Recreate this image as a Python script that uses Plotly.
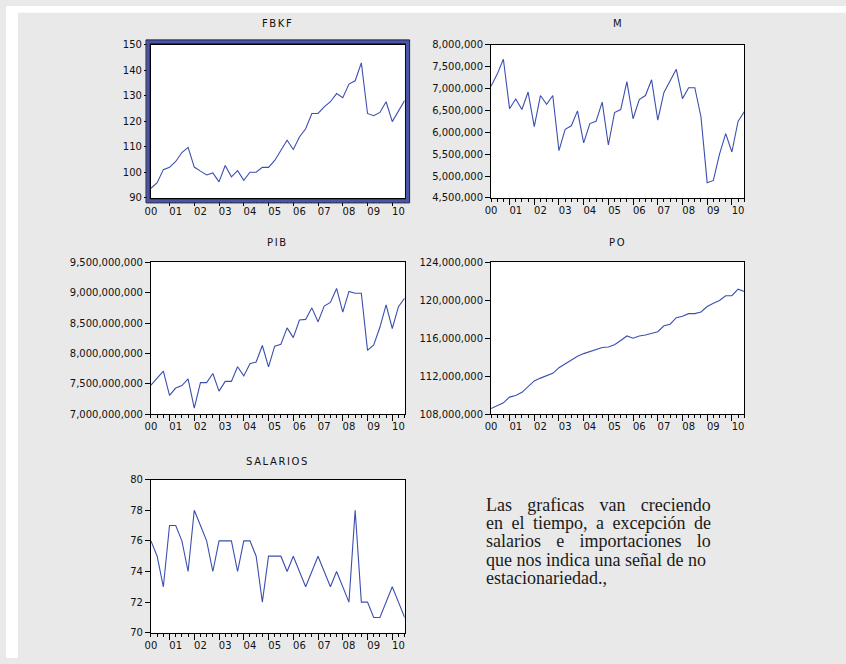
import plotly.graph_objects as go

W, H = 846, 664

# Quarterly observations, 2000Q1 .. 2010Q2
year_labels = ["00", "01", "02", "03", "04", "05", "06", "07", "08", "09", "10"]
obs = list(range(42))

fbkf = [93.8, 96.0, 101.1, 102.0, 104.3, 107.8, 109.8, 102.1, 100.5, 99.0,
        99.8, 96.3, 102.7, 98.3, 100.7, 96.9, 100.1, 100.1, 102.0, 102.0,
        104.7, 108.8, 112.6, 109.0, 113.9, 117.1, 123.1, 123.1, 125.7, 127.7,
        130.9, 129.3, 134.6, 135.9, 142.9, 123.1, 122.2, 123.5, 127.7, 119.9,
        123.9, 128.2]

m_imp = [7050000, 7330000, 7670000, 6540000, 6760000, 6520000, 6920000, 6130000,
         6840000, 6640000, 6840000, 5580000, 6070000, 6150000, 6490000, 5760000,
         6200000, 6250000, 6690000, 5710000, 6450000, 6520000, 7160000, 6310000,
         6750000, 6840000, 7200000, 6280000, 6910000, 7160000, 7440000, 6770000,
         7020000, 7020000, 6350000, 4850000, 4900000, 5500000, 5970000, 5550000,
         6250000, 6470000]

pib_bn = [7.48, 7.59, 7.71, 7.31, 7.43, 7.47, 7.58, 7.10, 7.52, 7.52,
          7.67, 7.38, 7.54, 7.54, 7.78, 7.63, 7.83, 7.86, 8.13, 7.78,
          8.12, 8.15, 8.42, 8.26, 8.55, 8.56, 8.75, 8.52, 8.78, 8.84,
          9.07, 8.68, 9.02, 8.99, 8.99, 8.05, 8.14, 8.43, 8.80, 8.41,
          8.77, 8.91]

po_mn = [108.60, 108.86, 109.20, 109.80, 109.97, 110.30, 110.93, 111.50, 111.80, 112.03,
         112.30, 112.90, 113.30, 113.76, 114.10, 114.38, 114.62, 114.80, 115.03, 115.07,
         115.31, 115.76, 116.24, 116.00, 116.24, 116.34, 116.52, 116.69, 117.31, 117.48,
         118.17, 118.31, 118.59, 118.59, 118.76, 119.34, 119.69, 119.97, 120.48, 120.48,
         121.17, 120.93]

salarios = [76, 75, 73, 77, 77, 76, 74, 78, 77, 76,
            74, 76, 76, 76, 74, 76, 76, 75, 72, 75,
            75, 75, 74, 75, 74, 73, 74, 75, 74, 73,
            74, 73, 72, 78, 72, 72, 71, 71, 72, 73,
            72, 71]

pib = [v * 1e9 for v in pib_bn]
po = [v * 1e6 for v in po_mn]

note_lines = [
    "Las graficas van creciendo",
    "en el tiempo, a excepción de",
    "salarios e importaciones lo",
    "que nos indica una señal de no",
    "estacionariedad.,",
]
# extra space between words so the paragraph reads justified
note_word_spacing = [10.8, 4.0, 10.8, 0.0, 0.0]


def fx(px):
    return px / W


def fy(px):
    return 1 - px / H


COL_X = [(146, 401.5), (488.5, 743.5)]
ROW_Y = [(39.5, 195.5), (261, 415.7), (482.3, 638.3)]

panels = [
    dict(name="FBKF", y=fbkf, col=0, row=0, lo=90, hi=150, step=10, ty=18),
    dict(name="M", y=m_imp, col=1, row=0, lo=4500000, hi=8000000, step=500000, ty=18),
    dict(name="PIB", y=pib, col=0, row=1, lo=7e9, hi=9.5e9, step=5e8, ty=241),
    dict(name="PO", y=po, col=1, row=1, lo=108e6, hi=124e6, step=4e6, ty=241),
    dict(name="SALARIOS", y=salarios, col=0, row=2, lo=70, hi=80, step=2, ty=463.5),
]

LINE_COLOR = "#3b4fae"
TICK_FONT = dict(family="DejaVu Sans", size=10, color="#111111")

# x-axis ticks: labelled year starts, short quarter ticks, longer year-end ticks
label_vals = [4 * k for k in range(len(year_labels))]
short_vals = sorted(label_vals + [i for i in obs if i % 4 in (1, 2)])
short_text = [year_labels[v // 4] if v % 4 == 0 else "" for v in short_vals]
long_vals = [i for i in obs if i % 4 == 3]

fig = go.Figure()
layout = dict(
    width=W, height=H,
    margin=dict(l=0, r=0, t=0, b=0),
    paper_bgcolor="#e9e9e9",
    plot_bgcolor="white",
    showlegend=False,
    annotations=[],
    shapes=[],
)

for i, p in enumerate(panels, start=1):
    x0, x1 = COL_X[p["col"]]
    y0, y1 = ROW_Y[p["row"]]
    xa = "x" if i == 1 else f"x{i}"
    ya = "y" if i == 1 else f"y{i}"
    lw = 2 if p["name"] == "FBKF" else 1
    fig.add_trace(go.Scatter(
        x=obs, y=p["y"], mode="lines", xaxis=xa, yaxis=ya,
        line=dict(color=LINE_COLOR, width=1.1),
    ))
    nt = int(round((p["hi"] - p["lo"]) / p["step"]))
    yt = [p["lo"] + k * p["step"] for k in range(nt + 1)]
    layout[f"xaxis{'' if i == 1 else i}"] = dict(
        domain=[fx(x0), fx(x1)], anchor=ya, range=[0, obs[-1]],
        showline=True, linecolor="black", linewidth=lw, mirror=True,
        showgrid=False, zeroline=False,
        tickmode="array", tickvals=short_vals, ticktext=short_text,
        ticks="outside", ticklen=3, tickwidth=1, tickcolor="black",
        tickfont=TICK_FONT,
        minor=dict(tickmode="array", tickvals=long_vals, ticks="outside",
                   ticklen=6, tickwidth=1, tickcolor="black"),
    )
    layout[f"yaxis{'' if i == 1 else i}"] = dict(
        domain=[fy(y1), fy(y0)], anchor=xa, range=[p["lo"], p["hi"]],
        showline=True, linecolor="black", linewidth=lw, mirror=True,
        showgrid=False, zeroline=False,
        tickmode="array", tickvals=yt, tickformat=",d",
        ticks="outside", ticklen=5, tickwidth=1, tickcolor="black",
        tickfont=TICK_FONT,
    )
    layout["annotations"].append(dict(
        text=f"<span style='letter-spacing:1.6px'>{p['name']}</span>",
        x=fx((x0 + x1) / 2), y=fy(p["ty"]), xref="paper", yref="paper",
        xanchor="center", yanchor="middle", showarrow=False,
        font=dict(family="DejaVu Sans", size=10, color="#111111"),
    ))

# selection frame around the FBKF graph
fx0, fx1 = COL_X[0]
fy0, fy1 = ROW_Y[0]
layout["shapes"].append(dict(
    type="rect", xref="paper", yref="paper", layer="above",
    x0=fx(fx0 - 3), x1=fx(fx1 + 3), y0=fy(fy1 + 3), y1=fy(fy0 - 3),
    line=dict(color="#4a55a5", width=3.5), fillcolor="rgba(0,0,0,0)",
))
layout["shapes"].append(dict(
    type="rect", xref="paper", yref="paper", layer="above",
    x0=fx(fx0 - 5), x1=fx(fx1 + 5), y0=fy(fy1 + 5), y1=fy(fy0 - 5),
    line=dict(color="#1c1c44", width=1), fillcolor="rgba(0,0,0,0)",
))

# white page margins at top and left
layout["shapes"].append(dict(
    type="rect", xref="paper", yref="paper", layer="below",
    x0=0, x1=fx(12), y0=0, y1=1, fillcolor="white", line=dict(width=0),
))
layout["shapes"].append(dict(
    type="rect", xref="paper", yref="paper", layer="below",
    x0=0, x1=1, y0=fy(7), y1=1, fillcolor="white", line=dict(width=0),
))

# note paragraph, one line per annotation
NOTE_FONT = dict(family="Liberation Serif", size=18, color="#1a1a1a")
note_left = 483
line_y = [508, 526.6, 545.2, 563.8, 582.4]
for text, ws, ly in zip(note_lines, note_word_spacing, line_y):
    layout["annotations"].append(dict(
        text=f"<span style='word-spacing:{ws}px'>{text}</span>",
        x=fx(note_left), y=fy(ly), xref="paper", yref="paper",
        xanchor="left", yanchor="middle", showarrow=False, font=NOTE_FONT,
        borderpad=0, borderwidth=0,
    ))

fig.update_layout(**layout)
fig.write_html("out.html")
